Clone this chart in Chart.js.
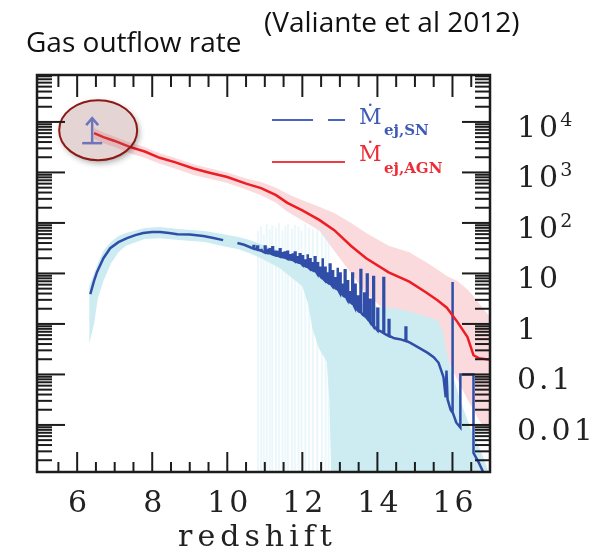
<!DOCTYPE html>
<html lang="en">
<head>
<meta charset="UTF-8">
<title>Gas outflow rate</title>
<style>
  html, body { margin: 0; padding: 0; background: #fff; }
  #wrap { position: relative; width: 610px; height: 553px; }
</style>
</head>
<body>
<div id="wrap"><canvas id="outflow" width="610" height="553"></canvas></div>
<script src="https://cdn.jsdelivr.net/npm/chart.js"></script>
<script>
// AGN-driven outflow rate (Msun/yr) vs redshift, with its 1-sigma band
const agnZ    = [6.45, 6.7, 7.0, 7.4, 7.8, 8.2, 8.6, 9.1, 9.5, 10.0, 10.5, 10.9, 11.3, 11.6, 12.0, 12.45, 12.85, 13.3, 13.7, 14.3, 14.85, 15.3, 15.6, 15.85, 16.13, 16.4, 16.56, 16.7, 17.0];
const agnRate = [6000, 5000, 4200, 3200, 2600, 1950, 1600, 1200, 1000, 810, 600, 490, 355, 250, 178, 115, 72, 35, 20, 10.5, 6.9, 4.2, 2.95, 2.1, 1.1, 0.55, 0.24, 0.21, 0.195];
const agnHigh = [7600, 6200, 5100, 3900, 3200, 2400, 1950, 1450, 1230, 1000, 760, 650, 500, 380, 280, 210, 158, 100, 63, 35.5, 26.3, 16.6, 12, 8.9, 7.1, 4.8, 3.55, 2.6, 1.38];
const agnLow  = [4600, 3800, 3200, 2400, 1950, 1480, 1200, 890, 760, 620, 457, 355, 250, 166, 112, 71, 28, 10, 4, 1.6, 1.0, 0.63, 0.4, 0.2, 0.08, 0.032, 0.02, 0.0126, 0.0063];

// SN-driven outflow rate; null marks the break in the curve
const snZ = [6.35, 6.45, 6.53, 6.7, 6.88, 7.1, 7.33, 7.55, 7.76, 8.0, 8.21, 8.45, 8.67, 9.0, 9.36, 9.6, 9.89, 10.05, 10.27, 10.45, 10.61,
  10.75, 10.85, 10.95, 11.1, 11.3, 11.5, 11.7, 11.9, 12.1, 12.3, 12.5, 12.7, 12.9, 13.1, 13.3, 13.5, 13.6, 13.85, 14.08, 14.22,
  14.45, 14.6, 14.88, 15.1, 15.33, 15.5, 15.63, 15.76, 15.82, 15.84, 15.87, 15.95, 16.1,
  16.21, 16.21, 16.56, 16.56, 16.7, 16.83, 16.95];
const snRate = [3.9, 7.1, 10.7, 20, 31.6, 41.7, 50, 57.5, 63, 66, 66, 63, 60, 59, 55, 51, 45.7, null, 40, 37, 33,
  30.5, 29, 27, 25, 22.8, 20.8, 18.8, 16.4, 13.7, 11.4, 8.4, 6.5, 5.0, 3.6, 2.6, 1.8, 1.55, 1.0, 0.72, 0.62,
  0.52, 0.5, 0.42, 0.34, 0.27, 0.22, 0.17, 0.089, 0.035, 0.12, 0.032, 0.02, 0.0112,
  0.0089, 0.1, 0.1, 0.0028, 0.0018, 0.00112, 0.00063];

// short bursts above the SN curve: redshift, rate at the foot, rate at the top
const burstZ    = [10.7, 10.8, 10.9, 11.0, 11.07, 11.13, 11.2, 11.27, 11.33, 11.4, 11.47, 11.53, 11.6, 11.67, 11.73, 11.8, 11.87, 11.93,
  12.0, 12.07, 12.13, 12.2, 12.27, 12.33, 12.4, 12.47, 12.53, 12.6, 12.67, 12.73, 12.8, 12.87, 12.93, 13.0, 13.07, 13.13, 13.2,
  13.27, 13.33, 13.4, 13.47, 13.55, 13.65, 13.72, 13.8, 13.89, 14.0, 14.16, 14.3, 14.75, 15.99];
const burstBase = [31, 29.5, 28, 26, 25.5, 25, 24, 23, 22.5, 21.5, 21, 20.5, 19.5, 19, 18.5, 17.3, 16.7, 16.2,
  14.8, 14, 13.5, 12.3, 11.6, 11.2, 9.8, 9, 8.0, 7.2, 6.7, 6.3, 5.6, 5.2, 4.9, 4.1, 3.8, 3.5, 3.0,
  2.7, 2.5, 2.1, 1.9, 1.7, 1.45, 1.3, 1.1, 0.9, 0.75, 0.66, 0.58, 0.46, 0.018];
const burstTop  = [35, 34, 31, 34, 29, 30, 33, 27, 28, 30, 25, 26, 27, 23, 25, 26, 21, 24,
  22, 18, 24, 19, 16, 21, 16, 13, 20, 13, 10, 15, 11, 8, 13, 10, 6, 11.5, 7,
  4.5, 10, 6, 3.5, 11.7, 4, 9.5, 3, 8.5, 2, 8.1, 1.2, 0.85, 6.8];

const snBandZ    = [6.32, 6.45, 6.55, 6.7, 6.9, 7.1, 7.3, 7.8, 8.2, 8.7, 9.4, 9.9, 10.3, 10.6, 10.9, 11.4, 12.0, 12.15, 12.27, 12.45, 12.65, 12.72, 12.8,
  13.0, 13.5, 14.0, 14.5, 14.9, 15.3, 15.6, 15.73, 15.87, 16.0, 16.2, 16.5, 16.8, 17.0];
const snBandHigh = [5.6, 10, 15.8, 28, 41.7, 55, 63, 79, 83, 76, 69, 60, 52.5, 45.7, 38, 28.2, 18.6, 16.6, 14.8, 12.6, 10, 8.9, 7.9,
  5.25, 2.5, 2.2, 2.0, 1.74, 1.41, 1.2, 0.76, 0.22, 0.1, 0.032, 0.0079, 0.0025, 0.001];
const snBandLow  = [0.4, 1.0, 3.2, 7.1, 15.8, 26.3, 35.5, 47.9, 50, 45.7, 41.7, 34.7, 30.2, 25.1, 20, 12.6, 5.6, 2.5, 0.8, 0.32, 0.18, 0.032, 0.0001,
  0.0001, 0.0001, 0.0001, 0.0001, 0.0001, 0.0001, 0.0001, 0.0001, 0.0001, 0.0001, 0.0001, 0.0001, 0.0001, 0.0001];

// individual runs that drop out of the SN band
const stripeZ   = [10.82, 10.9, 10.97, 11.05, 11.13, 11.2, 11.3, 11.38, 11.47, 11.55, 11.62, 11.72, 11.8, 11.9, 11.98, 12.08, 12.18, 12.28, 12.4, 12.52, 12.62, 12.7];
const stripeTop = [70, 85, 60, 95, 75, 90, 80, 100, 70, 88, 95, 78, 92, 85, 70, 96, 82, 75, 90, 80, 72, 60];
const stripeFloor = 0.0001;

// observed lower limit at z ~ 6.4
const limitZ = [6.4];
const limitRate = [3800];

const xTicks = [6, 8, 10, 12, 14, 16];
const xTickLabels = ['6', '8', '10', '12', '14', '16'];
const yTicks = [1e4, 1e3, 100, 10, 1, 0.1, 0.01];
const yTickBase = ['10', '10', '10', '10', '1', '0.1', '0.01'];
const yTickExp  = ['4', '3', '2', '', '', '', ''];

const pts = (xs, ys) => xs.map((x, i) => ({ x: x, y: ys[i] }));

// SN curve with each burst drawn as a narrow column
const BURST_W = 0.02;
const snPts = pts(snZ, snRate);
burstZ.forEach((z, i) => {
  snPts.push({ x: z, y: burstBase[i] }, { x: z, y: burstTop[i] },
             { x: z + BURST_W, y: burstTop[i] }, { x: z + BURST_W, y: burstBase[i] });
});
snPts.sort((a, b) => a.x - b.x);

const stripePts = [];
stripeZ.forEach((z, i) => {
  stripePts.push({ x: z, y: stripeTop[i] }, { x: z, y: stripeFloor }, { x: z + 0.001, y: null });
});

const BLUE = 'rgb(48,78,168)';
const RED = 'rgb(236,30,36)';
const CYAN = 'rgb(204,236,241)';
const PINK = 'rgb(251,218,221)';

function line(ctx, x1, y1, x2, y2) {
  ctx.beginPath(); ctx.moveTo(x1, y1); ctx.lineTo(x2, y2); ctx.stroke();
}

const framePlugin = {
  id: 'frame',
  afterDatasetsDraw(chart) {
    const ctx = chart.ctx;
    const xs = chart.scales.x, ys = chart.scales.y;
    const px = xs.getPixelForValue(limitZ[0]);
    const py = ys.getPixelForValue(limitRate[0]);
    const cx = px + 6, cy = py - 13;

    ctx.save();
    // soft shadow kept outside the ellipse
    ctx.save();
    ctx.beginPath();
    ctx.rect(0, 0, chart.width, chart.height);
    ctx.ellipse(cx, cy, 39, 30, 0, 0, Math.PI * 2);
    ctx.clip('evenodd');
    ctx.shadowColor = 'rgba(0,0,0,0.35)';
    ctx.shadowBlur = 6; ctx.shadowOffsetX = 1002; ctx.shadowOffsetY = 3;
    ctx.beginPath();
    ctx.ellipse(cx - 1000, cy, 39, 30, 0, 0, Math.PI * 2);
    ctx.fillStyle = '#000';
    ctx.fill();
    ctx.restore();

    // highlighted region round the observed limit
    ctx.beginPath();
    ctx.ellipse(cx, cy, 39, 30, 0, 0, Math.PI * 2);
    ctx.fillStyle = 'rgba(150,90,90,0.26)';
    ctx.fill();
    ctx.strokeStyle = 'rgb(140,25,20)';
    ctx.lineWidth = 2;
    ctx.stroke();

    // lower-limit arrow
    ctx.strokeStyle = 'rgb(112,116,186)';
    ctx.lineWidth = 2.5;
    line(ctx, px - 10, py, px + 10, py);
    line(ctx, px, py, px, py - 25);
    ctx.beginPath();
    ctx.moveTo(px - 6, py - 18); ctx.lineTo(px, py - 25); ctx.lineTo(px + 6, py - 18);
    ctx.stroke();
    ctx.restore();
  },
  afterDraw(chart) {
    const ctx = chart.ctx;
    const { left, right, top, bottom } = chart.chartArea;
    const xs = chart.scales.x, ys = chart.scales.y;
    ctx.save();

    // tick marks on all four sides, pointing inwards
    ctx.strokeStyle = '#1c1c1c';
    ctx.lineWidth = 2;
    for (let v = 5.5; v < xs.max; v += 0.5) {
      const x = xs.getPixelForValue(v);
      const major = xTicks.includes(v);
      line(ctx, x, bottom, x, bottom - (major ? 20 : 10));
      line(ctx, x, top, x, top + (major ? 22 : 12));
    }
    for (let e = -3; e <= 4; e++) {
      for (let m = 1; m <= 9; m++) {
        const v = m * Math.pow(10, e);
        if (v < ys.min || v > ys.max) continue;
        const y = ys.getPixelForValue(v);
        const len = m === 1 ? 28 : 15;
        line(ctx, left, y, left + len, y);
        line(ctx, right, y, right - len, y);
      }
    }
    ctx.lineWidth = 2.5;
    ctx.strokeRect(left, top, right - left, bottom - top);

    // axis labels
    ctx.fillStyle = '#222';
    ctx.font = '30px "DejaVu Serif"';
    ctx.letterSpacing = '3px';
    ctx.textAlign = 'center';
    ctx.textBaseline = 'alphabetic';
    xTicks.forEach((v, i) => ctx.fillText(xTickLabels[i], xs.getPixelForValue(v) + 2, 512));
    ctx.letterSpacing = '5px';
    ctx.fillText('redshift', (left + right) / 2 - 6, 546);
    ctx.textAlign = 'left';
    yTicks.forEach((v, i) => {
      const y = ys.getPixelForValue(v) + 15;
      ctx.font = '30px "DejaVu Serif"';
      ctx.letterSpacing = '3px';
      ctx.fillText(yTickBase[i], 517, y);
      if (yTickExp[i]) {
        const w = ctx.measureText(yTickBase[i]).width;
        ctx.font = '19px "DejaVu Serif"';
        ctx.letterSpacing = '0px';
        ctx.fillText(yTickExp[i], 517 + w - 1, y - 11);
      }
    });
    ctx.letterSpacing = '0px';

    // legend
    ctx.lineWidth = 2;
    ctx.strokeStyle = 'rgb(72,100,190)';
    line(ctx, 272, 120, 313, 120);
    line(ctx, 328, 120, 345, 120);
    ctx.strokeStyle = 'rgb(238,60,66)';
    line(ctx, 272, 162, 345, 162);
    ctx.fillStyle = 'rgb(62,92,182)';
    ctx.font = '22px "DejaVu Serif"';
    ctx.fillText('\u1E40', 359, 124);
    ctx.font = 'bold 15px "DejaVu Serif"';
    ctx.fillText('ej,SN', 384, 135);
    ctx.fillStyle = 'rgb(236,45,55)';
    ctx.font = '22px "DejaVu Serif"';
    ctx.fillText('\u1E40', 359, 161);
    ctx.font = 'bold 15px "DejaVu Serif"';
    ctx.fillText('ej,AGN', 384, 173);

    // headings
    ctx.fillStyle = '#111';
    ctx.font = '28px "Open Sans"';
    ctx.fillText('Gas outflow rate', 26, 52);
    ctx.fillText('(Valiante et al 2012)', 264, 32);
    ctx.restore();
  }
};

new Chart(document.getElementById('outflow'), {
  type: 'line',
  data: {
    datasets: [
      { data: pts(agnZ, agnRate), borderColor: RED, borderWidth: 2.5, order: 0 },
      { data: snPts, borderColor: BLUE, borderWidth: 2.5, order: 0, spanGaps: false },
      { data: pts(snBandZ, snBandHigh), borderWidth: 0, borderColor: CYAN, backgroundColor: CYAN, fill: '+1', order: 1 },
      { data: pts(snBandZ, snBandLow), borderWidth: 0, borderColor: CYAN, fill: false, order: 1 },
      { data: stripePts, borderColor: 'rgba(205,236,242,0.4)', borderWidth: 2, spanGaps: false, order: 2 },
      { data: pts(agnZ, agnHigh), borderWidth: 0, borderColor: PINK, backgroundColor: PINK, fill: '+1', order: 3 },
      { data: pts(agnZ, agnLow), borderWidth: 0, borderColor: PINK, fill: false, order: 3 }
    ]
  },
  options: {
    responsive: false,
    animation: false,
    layout: { padding: { left: 37, top: 75, right: 120, bottom: 81 } },
    elements: { point: { radius: 0 }, line: { tension: 0 } },
    scales: {
      x: { type: 'linear', min: 4.93, max: 17.0, display: false },
      y: { type: 'logarithmic', min: 0.00117, max: 85000, display: false }
    },
    plugins: { legend: { display: false }, tooltip: { enabled: false } }
  },
  plugins: [framePlugin]
});
</script>
</body>
</html>
